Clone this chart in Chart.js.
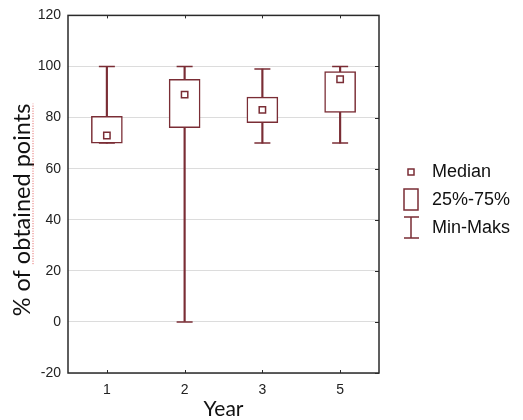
<!DOCTYPE html>
<html>
<head>
<meta charset="utf-8">
<script src="https://cdn.jsdelivr.net/npm/chart.js@4.4.1/dist/chart.umd.min.js"></script>
<style>
  html, body { margin: 0; padding: 0; background: #fff; }
  #wrap { width: 523px; height: 420px; }
</style>
</head>
<body>
<div id="wrap"><canvas id="boxChart"></canvas></div>
<script>
// Dados
const years = ['1', '2', '3', '5'];
const minVals = [70, 0, 70, 70];
const q1Vals = [70, 76, 78, 82];
const medianVals = [73, 89, 83, 95];
const q3Vals = [80.5, 95, 88, 98];
const maxVals = [100, 100, 99, 100];
const yMin = -20;
const yMax = 120;
const yStep = 20;

const legendLabels = ['Median', '25%-75%', 'Min-Maks'];
const yTitle = '% of obtained points';
const xTitle = 'Year';

const boxColor = '#7a2d35';

// Moldura, marcas internas, título do eixo Y e legenda
const extrasPlugin = {
    id: 'extras',
    afterDraw(chart) {
        const ctx = chart.ctx;
        const area = chart.chartArea;
        const x = chart.scales.x;
        const y = chart.scales.y;
        ctx.save();

        // moldura
        ctx.strokeStyle = '#2a2a2a';
        ctx.lineWidth = 1.5;
        ctx.strokeRect(area.left, area.top, area.right - area.left, area.bottom - area.top);

        // marcas para dentro
        ctx.lineWidth = 1;
        ctx.beginPath();
        x.ticks.forEach((t, i) => {
            const px = Math.round(x.getPixelForTick(i)) + 0.5;
            ctx.moveTo(px, area.bottom);
            ctx.lineTo(px, area.bottom - 3);
            ctx.moveTo(px, area.top);
            ctx.lineTo(px, area.top + 3);
        });
        y.ticks.forEach((t, i) => {
            const py = Math.round(y.getPixelForTick(i)) + 0.5;
            ctx.moveTo(area.right, py);
            ctx.lineTo(area.right - 4, py);
        });
        ctx.stroke();

        // título do eixo Y
        ctx.translate(22, 210);
        ctx.rotate(-Math.PI / 2);
        ctx.font = '23.5px Lato';
        ctx.fillStyle = '#111';
        ctx.textAlign = 'center';
        ctx.textBaseline = 'middle';
        ctx.fillText(yTitle, 0, 0);
        const w = ctx.measureText(yTitle).width;
        const startX = -w / 2 + ctx.measureText('% of ').width;
        ctx.strokeStyle = '#e05a5a';
        ctx.lineWidth = 1;
        ctx.setLineDash([1, 1.5]);
        ctx.beginPath();
        ctx.moveTo(startX, 11);
        ctx.lineTo(w / 2, 11);
        ctx.stroke();
        ctx.setLineDash([]);
        ctx.setTransform(1, 0, 0, 1, 0, 0);

        // legenda
        ctx.strokeStyle = boxColor;
        ctx.lineWidth = 1.5;
        ctx.strokeRect(408, 169, 6, 6);
        ctx.strokeRect(404, 189, 14, 21);
        ctx.beginPath();
        ctx.moveTo(411, 217);
        ctx.lineTo(411, 238);
        ctx.moveTo(404, 217);
        ctx.lineTo(419, 217);
        ctx.moveTo(404, 238);
        ctx.lineTo(419, 238);
        ctx.stroke();

        ctx.font = '18px "Liberation Sans"';
        ctx.fillStyle = '#111';
        ctx.textAlign = 'left';
        ctx.textBaseline = 'middle';
        ctx.fillText(legendLabels[0], 432, 172);
        ctx.fillText(legendLabels[1], 432, 200);
        ctx.fillText(legendLabels[2], 432, 228);
        ctx.restore();
    }
};

const boxData = {
    labels: years,
    datasets: [
        {
            type: 'line',
            label: 'Median',
            data: medianVals,
            showLine: false,
            pointStyle: 'rect',
            pointRadius: 4.5,
            pointBackgroundColor: '#fff',
            pointBorderColor: boxColor,
            pointBorderWidth: 1.5,
            order: 0
        },
        {
            type: 'bar',
            label: '25%-75%',
            data: years.map((c, i) => [q1Vals[i], q3Vals[i]]),
            backgroundColor: '#fff',
            borderColor: boxColor,
            borderWidth: 1.5,
            borderSkipped: false,
            barThickness: 31,
            grouped: false,
            order: 1
        },
        {
            type: 'line',
            label: 'Max',
            data: maxVals,
            showLine: false,
            pointStyle: 'line',
            pointRadius: 8,
            pointBorderColor: boxColor,
            pointBorderWidth: 1.5,
            order: 2
        },
        {
            type: 'line',
            label: 'Min',
            data: minVals,
            showLine: false,
            pointStyle: 'line',
            pointRadius: 8,
            pointBorderColor: boxColor,
            pointBorderWidth: 1.5,
            order: 2
        },
        {
            type: 'bar',
            label: 'Min-Maks',
            data: years.map((c, i) => [minVals[i], maxVals[i]]),
            backgroundColor: boxColor,
            borderWidth: 0,
            barThickness: 1.5,
            grouped: false,
            order: 3
        }
    ]
};

const boxConfig = {
    type: 'bar',
    data: boxData,
    options: {
        responsive: true,
        maintainAspectRatio: false,
        animation: false,
        layout: {
            padding: { left: 0, right: 144, top: 15, bottom: 0 }
        },
        plugins: {
            legend: { display: false },
            tooltip: { enabled: false }
        },
        scales: {
            x: {
                afterFit(scale) { scale.height = 47; },
                grid: { display: false, drawTicks: false },
                border: { display: false },
                ticks: {
                    padding: 9,
                    color: '#222',
                    font: { family: 'Liberation Sans', size: 14 }
                },
                title: {
                    display: true,
                    text: xTitle,
                    color: '#111',
                    padding: 0,
                    font: { family: 'Lato', size: 21, lineHeight: 1 }
                }
            },
            y: {
                min: yMin,
                max: yMax,
                afterFit(scale) { scale.width = 68; },
                grid: { color: '#dcdcdc', lineWidth: 1, drawTicks: false },
                border: { display: false },
                ticks: {
                    stepSize: yStep,
                    padding: 7,
                    color: '#222',
                    font: { family: 'Liberation Sans', size: 14 }
                }
            }
        }
    },
    plugins: [extrasPlugin]
};

window.onload = function() {
    const ctx = document.getElementById('boxChart').getContext('2d');
    new Chart(ctx, boxConfig);
};
</script>
</body>
</html>
